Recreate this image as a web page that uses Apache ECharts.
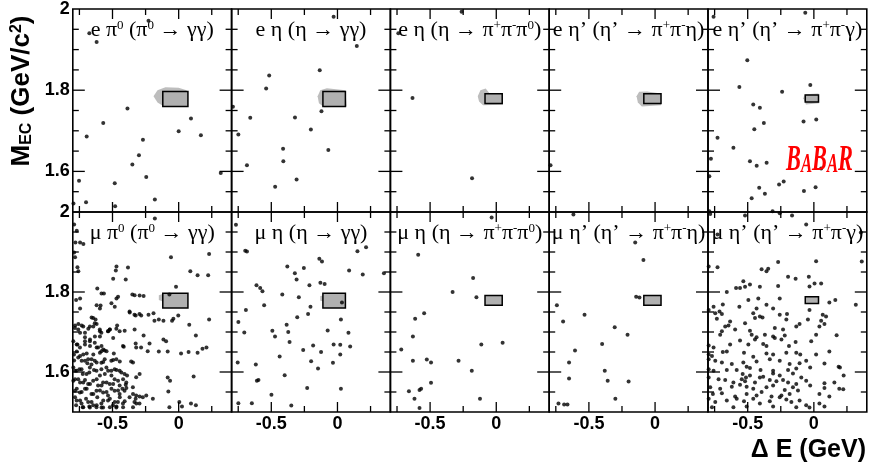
<!DOCTYPE html>
<html>
<head>
<meta charset="utf-8">
<script src="https://cdn.jsdelivr.net/npm/echarts@6/dist/echarts.min.js"></script>
<style>
  html, body { margin: 0; padding: 0; background: #fff; }
  #main { width: 872px; height: 468px; }
</style>
</head>
<body>
<div id="main"></div>
<script>
// tick positions and labels
const xMajor = [-0.5, 0];
const xMinor = [-0.75, -0.25, 0.25];
const yMajor = [1.6, 1.8];
const yMinor = [1.55, 1.65, 1.7, 1.75, 1.85, 1.9, 1.95];
const yLabels = [1.6, 1.8, 2];

// panel titles (rich text, {s|..} = superscript)
const topTitles = [
  'e π{s|0} (π{s|0} → γγ)',
  'e η (η → γγ)',
  'e η (η → π{s|+}π{s|-}π{s|0})',
  'e η’ (η’ → π{s|+}π{s|-}η)',
  'e η’ (η’ → π{s|+}π{s|-}γ)'
];
const bottomTitles = topTitles.map(t => t.replace(/^e /, 'μ '));

// signal boxes [dE1, M1, dE2, M2]
const boxes = [
  [-0.12, 1.760, 0.07, 1.797],
  [-0.11, 1.760, 0.06, 1.797],
  [-0.085, 1.767, 0.045, 1.791],
  [-0.085, 1.767, 0.045, 1.791],
  [-0.065, 1.771, 0.035, 1.788]
];

// grey signal MC regions (outline in dE, M)
const blobTop = [
  [[-0.19, 1.785], [-0.16, 1.800], [-0.10, 1.807], [0.0, 1.806], [0.06, 1.800], [0.07, 1.770], [0.0, 1.762], [-0.12, 1.762], [-0.16, 1.770]],
  [[-0.15, 1.785], [-0.13, 1.800], [-0.08, 1.805], [0.06, 1.800], [0.07, 1.760], [-0.10, 1.758], [-0.14, 1.768]],
  [[-0.14, 1.785], [-0.12, 1.800], [-0.08, 1.804], [-0.05, 1.792], [0.05, 1.792], [0.05, 1.764], [-0.10, 1.763], [-0.13, 1.772]],
  [[-0.14, 1.785], [-0.12, 1.796], [-0.06, 1.797], [0.045, 1.792], [0.045, 1.763], [-0.10, 1.760], [-0.13, 1.770]],
  [[-0.08, 1.780], [-0.07, 1.790], [0.035, 1.792], [0.04, 1.768], [-0.06, 1.765]]
];
const blobBottom = [
  [[-0.15, 1.780], [-0.15, 1.792], [-0.11, 1.796], [-0.11, 1.775]],
  [[-0.13, 1.778], [-0.13, 1.790], [-0.10, 1.792], [-0.10, 1.776]],
  null, null, null
];

// events (dE GeV, M_EC GeV/c2)
const ePi0 = [
  [-0.62, 1.919], [-0.675, 1.94], [-0.228, 1.971], [-0.387, 1.755], [-0.57, 1.719], [-0.695, 1.686],
  [0.093, 1.730], [0.0, 1.699], [0.168, 1.689], [-0.27, 1.678], [-0.30, 1.640], [-0.35, 1.617],
  [-0.245, 1.586], [-0.483, 1.571], [-0.753, 1.577], [-0.70, 1.524], [-0.48, 1.514], [-0.18, 1.531],
  [0.318, 1.596], [-0.795, 1.521]
];
const eEtaGG = [
  [-0.029, 1.981], [0.146, 1.909], [-0.516, 1.836], [-0.134, 1.849], [-0.539, 1.804], [-0.79, 1.759],
  [-0.659, 1.732], [-0.321, 1.733], [-0.121, 1.748], [-0.749, 1.691], [-0.201, 1.703], [-0.411, 1.656],
  [-0.069, 1.653], [-0.409, 1.625], [-0.684, 1.615], [-0.309, 1.580], [-0.471, 1.562]
];
const eEta3Pi = [
  [-0.262, 1.993], [-0.74, 1.94], [-0.633, 1.781], [-0.183, 1.583]
];
const eEtaPrEta = [
  [-0.79, 1.615]
];
const eEtaPrG = [
  [-0.758, 1.981], [-0.065, 1.991], [-0.503, 1.874], [-0.563, 1.808], [-0.24, 1.796], [-0.027, 1.813],
  [-0.458, 1.765], [-0.408, 1.757], [-0.378, 1.719], [-0.45, 1.704], [-0.078, 1.723], [0.018, 1.728],
  [-0.728, 1.683], [-0.608, 1.658], [-0.778, 1.631], [-0.483, 1.625], [-0.432, 1.614], [-0.357, 1.621],
  [0.055, 1.607], [-0.79, 1.588], [-0.263, 1.568], [-0.228, 1.575], [-0.413, 1.560], [0.013, 1.561],
  [-0.37, 1.545], [-0.47, 1.534], [-0.075, 1.552], [-0.79, 1.502], [-0.312, 1.502]
];
const muPi0 = [
  [-0.18, 1.984], [-0.79, 1.969], [-0.77, 1.953], [-0.78, 1.924], [-0.745, 1.924], [-0.72, 1.92], [-0.79, 1.899],
  [-0.783, 1.887], [-0.765, 1.862], [-0.758, 1.852], [0.23, 1.895], [-0.058, 1.887], [-0.47, 1.864],
  [-0.475, 1.854], [-0.383, 1.861], [-0.4, 1.831], [-0.495, 1.833], [0.088, 1.852], [0.143, 1.842],
  [0.223, 1.842], [-0.615, 1.809], [-0.583, 1.796], [-0.565, 1.796], [-0.458, 1.788], [-0.47, 1.784],
  [-0.35, 1.794], [-0.333, 1.792], [-0.295, 1.791], [-0.265, 1.79], [-0.02, 1.813], [-0.07, 1.794],
  [-0.745, 1.784], [-0.775, 1.78], [-0.62, 1.767], [-0.59, 1.766], [-0.595, 1.759], [-0.508, 1.772],
  [-0.483, 1.763], [-0.745, 1.759], [-0.37, 1.749], [-0.325, 1.741], [-0.283, 1.741], [-0.228, 1.743],
  [-0.19, 1.747], [-0.183, 1.728], [-0.15, 1.731], [-0.115, 1.728], [-0.04, 1.733], [-0.003, 1.741],
  [-0.05, 1.728], [0.23, 1.731], [-0.658, 1.736], [-0.628, 1.731], [0.08, 1.718], [-0.783, 1.716],
  [-0.758, 1.72], [-0.733, 1.716], [-0.683, 1.708], [-0.645, 1.714], [-0.62, 1.72], [-0.595, 1.702],
  [-0.533, 1.702], [-0.52, 1.706], [-0.465, 1.716], [-0.408, 1.703], [-0.333, 1.706], [-0.745, 1.698],
  [-0.708, 1.687], [-0.67, 1.681], [-0.633, 1.689], [-0.595, 1.689], [-0.495, 1.685], [-0.265, 1.691],
  [0.13, 1.691], [-0.765, 1.669], [-0.708, 1.669], [-0.67, 1.665], [-0.62, 1.661], [-0.583, 1.665],
  [-0.57, 1.656], [-0.415, 1.663], [-0.325, 1.671], [-0.22, 1.671], [-0.115, 1.681], [-0.095, 1.677],
  [0.18, 1.658], [0.21, 1.661], [-0.77, 1.651], [-0.745, 1.64], [-0.695, 1.646], [-0.645, 1.644],
  [-0.595, 1.648], [-0.545, 1.652], [-0.49, 1.646], [-0.15, 1.651], [-0.083, 1.651], [0.018, 1.646],
  [0.075, 1.65], [0.143, 1.648], [-0.79, 1.629], [-0.733, 1.628], [-0.69, 1.622], [-0.658, 1.632],
  [-0.62, 1.624], [-0.57, 1.625], [-0.495, 1.63], [-0.445, 1.626], [-0.345, 1.624], [-0.783, 1.603],
  [-0.75, 1.607], [-0.725, 1.595], [-0.675, 1.599], [-0.64, 1.605], [-0.595, 1.591], [-0.558, 1.595],
  [-0.533, 1.603], [-0.508, 1.591], [-0.47, 1.605], [-0.433, 1.599], [-0.39, 1.591], [-0.295, 1.595],
  [-0.083, 1.586], [-0.065, 1.578], [0.113, 1.589], [-0.783, 1.582], [-0.745, 1.574], [-0.708, 1.58],
  [-0.67, 1.57], [-0.62, 1.582], [-0.583, 1.566], [-0.545, 1.574], [-0.495, 1.57], [-0.458, 1.578],
  [-0.42, 1.582], [-0.4, 1.568], [-0.77, 1.558], [-0.733, 1.55], [-0.695, 1.558], [-0.645, 1.545],
  [-0.595, 1.554], [-0.545, 1.55], [-0.508, 1.558], [-0.458, 1.554], [-0.425, 1.558], [-0.395, 1.56],
  [-0.345, 1.545], [-0.295, 1.539], [-0.245, 1.541], [-0.078, 1.551], [-0.783, 1.537], [-0.745, 1.529],
  [-0.7, 1.533], [-0.658, 1.525], [-0.615, 1.537], [-0.57, 1.529], [-0.52, 1.533], [-0.483, 1.525],
  [-0.445, 1.537], [-0.408, 1.527], [-0.325, 1.533], [-0.32, 1.521], [-0.195, 1.533], [0.005, 1.525],
  [0.093, 1.521], [0.13, 1.517], [-0.775, 1.517], [-0.725, 1.512], [-0.675, 1.514], [-0.62, 1.517],
  [-0.583, 1.511], [-0.52, 1.512], [-0.47, 1.514], [-0.42, 1.512], [-0.345, 1.512], [0.025, 1.514],
  [-0.07, 1.512],
  // lower-left cluster
  [-0.784, 1.710], [-0.759, 1.706], [-0.721, 1.714], [-0.708, 1.698], [-0.646, 1.735], [-0.634, 1.722],
  [-0.671, 1.714], [-0.596, 1.706], [-0.584, 1.698], [-0.534, 1.702], [-0.521, 1.706], [-0.471, 1.708],
  [-0.446, 1.702], [-0.371, 1.751], [-0.334, 1.743], [-0.296, 1.745], [-0.796, 1.677], [-0.771, 1.669],
  [-0.746, 1.661], [-0.708, 1.677], [-0.671, 1.677], [-0.634, 1.673], [-0.609, 1.661], [-0.584, 1.652],
  [-0.559, 1.654], [-0.791, 1.644], [-0.759, 1.636], [-0.721, 1.644], [-0.708, 1.628], [-0.684, 1.632],
  [-0.659, 1.619], [-0.634, 1.628], [-0.584, 1.623], [-0.559, 1.632], [-0.509, 1.628], [-0.471, 1.632],
  [-0.421, 1.665], [-0.359, 1.626], [-0.321, 1.661], [-0.284, 1.661], [-0.234, 1.652], [-0.796, 1.611],
  [-0.771, 1.603], [-0.734, 1.607], [-0.696, 1.595], [-0.671, 1.611], [-0.621, 1.603], [-0.584, 1.607],
  [-0.546, 1.611], [-0.509, 1.603], [-0.484, 1.607], [-0.446, 1.603], [-0.409, 1.595], [-0.321, 1.587],
  [-0.796, 1.578], [-0.759, 1.582], [-0.721, 1.574], [-0.684, 1.570], [-0.646, 1.578], [-0.609, 1.566],
  [-0.571, 1.574], [-0.521, 1.570], [-0.484, 1.582], [-0.446, 1.566], [-0.396, 1.574], [-0.346, 1.562],
  [-0.784, 1.553], [-0.746, 1.549], [-0.708, 1.558], [-0.659, 1.545], [-0.621, 1.553], [-0.571, 1.549],
  [-0.534, 1.541], [-0.484, 1.553], [-0.446, 1.545], [-0.409, 1.553], [-0.371, 1.537], [-0.321, 1.541],
  [-0.271, 1.537], [-0.771, 1.529], [-0.734, 1.521], [-0.684, 1.525], [-0.646, 1.517], [-0.584, 1.521],
  [-0.534, 1.529], [-0.496, 1.517], [-0.459, 1.525], [-0.421, 1.521], [-0.334, 1.525], [-0.296, 1.521],
  [-0.721, 1.512], [-0.671, 1.511], [-0.621, 1.512], [-0.571, 1.511], [-0.471, 1.511]
];
const muEtaGG = [
  [-0.767, 1.968], [-0.697, 1.903], [-0.684, 1.901], [-0.137, 1.883], [-0.117, 1.876], [0.151, 1.902],
  [0.216, 1.912], [0.088, 1.854], [0.191, 1.844], [0.351, 1.847], [-0.379, 1.864], [-0.322, 1.847],
  [-0.254, 1.860], [-0.309, 1.831], [-0.612, 1.817], [-0.584, 1.810], [-0.567, 1.802], [-0.212, 1.817],
  [-0.129, 1.823], [-0.097, 1.820], [-0.417, 1.794], [-0.292, 1.787], [-0.554, 1.767], [-0.692, 1.755],
  [0.034, 1.774], [-0.204, 1.763], [-0.304, 1.737], [-0.222, 1.745], [-0.749, 1.725], [0.026, 1.731],
  [-0.704, 1.699], [-0.384, 1.718], [-0.372, 1.700], [-0.492, 1.703], [-0.472, 1.689], [-0.074, 1.704],
  [0.083, 1.698], [-0.362, 1.675], [-0.184, 1.666], [-0.124, 1.650], [-0.029, 1.669], [0.021, 1.668],
  [0.096, 1.664], [0.021, 1.644], [-0.259, 1.655], [-0.437, 1.639], [-0.199, 1.627], [-0.034, 1.623],
  [-0.754, 1.624], [-0.617, 1.619], [-0.147, 1.609], [-0.399, 1.592], [-0.609, 1.578], [-0.597, 1.580],
  [-0.229, 1.560], [0.026, 1.558], [-0.499, 1.543], [-0.647, 1.522], [-0.749, 1.522], [-0.349, 1.516]
];
const muEta3Pi = [
  [-0.035, 1.986], [-0.59, 1.893], [-0.175, 1.835], [-0.33, 1.800], [-0.15, 1.787], [-0.545, 1.747],
  [-0.613, 1.733], [-0.63, 1.689], [-0.718, 1.656], [-0.63, 1.628], [-0.525, 1.631], [-0.493, 1.624],
  [-0.285, 1.628], [-0.113, 1.669], [0.048, 1.673], [-0.185, 1.603], [-0.493, 1.573], [-0.66, 1.552],
  [-0.58, 1.555], [-0.568, 1.558], [-0.618, 1.533], [-0.123, 1.533], [-0.58, 1.510]
];
const muEtaPrEta = [
  [-0.617, 1.994], [-0.15, 1.924], [-0.088, 1.880], [-0.143, 1.788], [-0.118, 1.786], [-0.742, 1.767],
  [-0.533, 1.743], [-0.695, 1.726], [-0.305, 1.712], [-0.208, 1.693], [-0.4, 1.670], [-0.605, 1.654],
  [-0.65, 1.624], [-0.65, 1.584], [-0.38, 1.603], [-0.358, 1.578], [-0.2, 1.576], [-0.3, 1.533],
  [-0.73, 1.521], [-0.687, 1.519], [-0.662, 1.519]
];
const muEtaPrG = [
  [-0.783, 1.995], [-0.52, 1.991], [-0.258, 1.997], [-0.165, 1.991], [-0.728, 1.944], [-0.058, 1.969], [0.355, 1.949],
  [-0.795, 1.864], [-0.728, 1.862], [-0.27, 1.875], [0.017, 1.877], [0.362, 1.876],
  [-0.395, 1.857], [-0.358, 1.852], [-0.345, 1.858], [-0.195, 1.838], [-0.138, 1.833], [-0.038, 1.838], [-0.533, 1.827],
  [-0.588, 1.81], [-0.558, 1.81], [-0.52, 1.813], [-0.483, 1.819], [-0.408, 1.813], [-0.27, 1.815], [-0.033, 1.814],
  [0.005, 1.821], [0.055, 1.821], [-0.658, 1.8],
  [-0.495, 1.78], [-0.42, 1.784], [-0.258, 1.784], [0.162, 1.78], [0.317, 1.768], [-0.758, 1.763], [-0.688, 1.769],
  [-0.563, 1.763], [-0.433, 1.759], [-0.358, 1.768], [0.117, 1.774],
  [-0.795, 1.755], [-0.745, 1.747], [-0.713, 1.751], [-0.695, 1.745], [-0.458, 1.747], [-0.408, 1.739], [-0.308, 1.759],
  [-0.258, 1.743], [-0.203, 1.745], [-0.033, 1.755], [0.067, 1.743], [0.092, 1.739],
  [-0.733, 1.733], [-0.633, 1.726], [-0.445, 1.735], [-0.388, 1.736], [-0.208, 1.731], [-0.108, 1.72], [-0.045, 1.731],
  [0.055, 1.728], [-0.67, 1.714], [-0.645, 1.716], [-0.695, 1.702], [-0.595, 1.706], [-0.52, 1.722], [-0.483, 1.703],
  [-0.295, 1.71], [-0.233, 1.706], [-0.133, 1.714], [0.042, 1.714], [0.08, 1.72],
  [-0.708, 1.693], [-0.47, 1.693], [-0.433, 1.687], [-0.37, 1.693], [-0.308, 1.689], [-0.22, 1.691], [0.017, 1.693],
  [0.172, 1.692], [-0.445, 1.681], [-0.558, 1.679], [-0.495, 1.669], [-0.383, 1.67], [-0.295, 1.685], [-0.245, 1.681],
  [-0.138, 1.675], [-0.02, 1.677],
  [-0.795, 1.666], [-0.758, 1.661], [-0.633, 1.669], [-0.358, 1.665], [-0.188, 1.665], [-0.688, 1.65], [-0.658, 1.651],
  [-0.528, 1.648], [-0.358, 1.646], [-0.308, 1.644], [-0.208, 1.648], [-0.133, 1.648], [-0.103, 1.644], [0.017, 1.644],
  [0.117, 1.651], [-0.795, 1.644], [-0.77, 1.64], [-0.458, 1.638],
  [-0.795, 1.632], [-0.745, 1.628], [-0.695, 1.624], [-0.62, 1.62], [-0.533, 1.624], [-0.508, 1.613], [-0.433, 1.626],
  [-0.333, 1.632], [-0.258, 1.628], [-0.183, 1.62], [-0.108, 1.622], [-0.058, 1.628], [0.08, 1.621], [0.187, 1.613],
  [0.197, 1.611], [-0.795, 1.607], [-0.758, 1.603], [-0.658, 1.605], [-0.583, 1.605], [-0.483, 1.61], [-0.403, 1.605],
  [-0.308, 1.603], [-0.195, 1.605], [-0.133, 1.609], [-0.028, 1.611],
  [-0.538, 1.595], [-0.513, 1.586], [-0.483, 1.591], [-0.408, 1.586], [-0.308, 1.596], [-0.258, 1.591], [-0.233, 1.58],
  [-0.158, 1.596], [-0.095, 1.586], [0.225, 1.591], [-0.795, 1.586], [-0.72, 1.582], [-0.67, 1.58], [-0.608, 1.574],
  [-0.545, 1.582], [-0.52, 1.577], [-0.445, 1.574], [-0.383, 1.588], [-0.333, 1.58], [-0.283, 1.577], [-0.195, 1.574],
  [-0.133, 1.57], [-0.058, 1.578], [0.08, 1.572], [0.155, 1.574],
  [-0.783, 1.562], [-0.708, 1.558], [-0.62, 1.563], [-0.558, 1.568], [-0.508, 1.563], [-0.458, 1.558], [-0.358, 1.562],
  [-0.308, 1.566], [-0.22, 1.555], [-0.158, 1.562], [-0.028, 1.566], [0.08, 1.56], [0.192, 1.558], [0.222, 1.557],
  [-0.763, 1.545], [-0.695, 1.547], [-0.595, 1.539], [-0.508, 1.545], [-0.433, 1.541], [-0.395, 1.55], [-0.32, 1.539],
  [-0.245, 1.541], [-0.183, 1.545], [-0.12, 1.554], [0.042, 1.545], [0.117, 1.539],
  [-0.795, 1.533], [-0.745, 1.525], [-0.658, 1.529], [-0.583, 1.533], [-0.528, 1.527], [-0.458, 1.533], [-0.408, 1.521],
  [-0.333, 1.527], [-0.258, 1.537], [-0.208, 1.531], [-0.17, 1.525], [-0.108, 1.529], [-0.058, 1.517], [0.042, 1.521],
  [0.08, 1.514], [-0.77, 1.512], [-0.608, 1.512], [-0.508, 1.514], [-0.308, 1.514], [-0.133, 1.512], [-0.033, 1.511]
];

const panelData = [
  [ePi0, eEtaGG, eEta3Pi, eEtaPrEta, eEtaPrG],
  [muPi0, muEtaGG, muEta3Pi, muEtaPrEta, muEtaPrG]
];

// layout
const colLeft = [72.8, 231.6, 390.4, 549.2, 708];
const colWidth = 158.8;
const rowTop = [9, 212];
const rowHeight = [203, 200];

const black = '#000';
const labelFont = { color: black, fontFamily: 'Liberation Sans, Arial, sans-serif', fontWeight: 'bold', fontSize: 18 };

// tick list for the custom tick series: [0 = x / 1 = y, value, major]
const tickData = [].concat(
  xMajor.map(v => [0, v, 1]), xMinor.map(v => [0, v, 0]),
  yMajor.map(v => [1, v, 1]), yMinor.map(v => [1, v, 0])
);

function renderTick(params, api) {
  const kind = api.value(0), v = api.value(1), major = api.value(2);
  const st = { stroke: black, lineWidth: 1.3 };
  if (kind === 0) {
    const len = major ? 10 : 6;
    const b = api.coord([v, 1.5]), t = api.coord([v, 2.0]);
    return { type: 'group', children: [
      { type: 'line', shape: { x1: b[0], y1: b[1], x2: b[0], y2: b[1] - len }, style: st },
      { type: 'line', shape: { x1: t[0], y1: t[1], x2: t[0], y2: t[1] + len }, style: st }
    ] };
  }
  const len = major ? 12 : 6;
  const l = api.coord([-0.8, v]), r = api.coord([0.4, v]);
  return { type: 'group', children: [
    { type: 'line', shape: { x1: l[0], y1: l[1], x2: l[0] + len, y2: l[1] }, style: st },
    { type: 'line', shape: { x1: r[0], y1: r[1], x2: r[0] - len, y2: r[1] }, style: st }
  ] };
}

const grids = [], xAxes = [], yAxes = [], series = [], graphics = [];

for (let r = 0; r < 2; r++) {
  for (let c = 0; c < 5; c++) {
    const g = r * 5 + c;
    grids.push({ left: colLeft[c], top: rowTop[r], width: colWidth, height: rowHeight[r],
      show: true, borderColor: black, borderWidth: 1.6, backgroundColor: 'transparent' });

    xAxes.push({
      gridIndex: g, type: 'value', min: -0.8, max: 0.4, position: 'bottom',
      axisLine: { show: false, onZero: false }, axisTick: { show: false }, splitLine: { show: false },
      axisLabel: r === 1
        ? Object.assign({ show: true, customValues: xMajor, margin: 3, formatter: v => (v === 0 ? '0' : v.toFixed(1)) }, labelFont)
        : { show: false }
    });
    yAxes.push({
      gridIndex: g, type: 'value', min: 1.5, max: 2.0, position: 'left',
      axisLine: { show: false, onZero: false }, axisTick: { show: false }, splitLine: { show: false },
      axisLabel: c === 0
        ? Object.assign({ show: true, customValues: yLabels, margin: 3, formatter: v => (v === 2 ? '2' : v.toFixed(1)) }, labelFont)
        : { show: false }
    });

    const ax = { xAxisIndex: g, yAxisIndex: g };
    const blob = (r === 0 ? blobTop : blobBottom)[c];
    if (blob) {
      series.push(Object.assign({
        type: 'custom', silent: true, z: 1, data: [0],
        renderItem: (params, api) => ({
          type: 'polygon',
          shape: { points: blob.map(p => api.coord(p)) },
          style: { fill: '#bdbdbd' }
        })
      }, ax));
    }
    series.push(Object.assign({
      type: 'custom', silent: true, z: 2, data: [boxes[c]],
      encode: { x: [0, 2], y: [1, 3] },
      renderItem: (params, api) => {
        const p1 = api.coord([api.value(0), api.value(3)]);
        const p2 = api.coord([api.value(2), api.value(1)]);
        return {
          type: 'rect',
          shape: { x: p1[0], y: p1[1], width: p2[0] - p1[0], height: p2[1] - p1[1] },
          style: { fill: '#b0b0b0', stroke: black, lineWidth: 1.5 }
        };
      }
    }, ax));
    series.push(Object.assign({
      type: 'scatter', z: 3, symbolSize: 4, silent: true,
      itemStyle: { color: black }, data: panelData[r][c]
    }, ax));
    series.push(Object.assign({
      type: 'custom', silent: true, z: 4, data: tickData, renderItem: renderTick
    }, ax));

    graphics.push({
      type: 'text', x: colLeft[c] + colWidth / 2, y: rowTop[r] + 21, z: 10,
      style: {
        text: (r === 0 ? topTitles : bottomTitles)[c],
        fontFamily: 'Liberation Serif, Times New Roman, serif', fontSize: 22,
        fill: black, align: 'center', verticalAlign: 'middle',
        rich: { s: { fontFamily: 'Liberation Serif, serif', fontSize: 13, verticalAlign: 'top', fill: black } }
      }
    });
  }
}

// axis titles
graphics.push({
  type: 'text', x: 22, y: 91, rotation: Math.PI / 2, z: 10,
  style: {
    text: 'M{sub|EC} (GeV/c{sup|2})',
    fontFamily: 'Liberation Sans, Arial, sans-serif', fontWeight: 'bold', fontSize: 26,
    fill: black, align: 'center', verticalAlign: 'middle',
    rich: {
      sub: { fontFamily: 'Liberation Sans, Arial, sans-serif', fontWeight: 'bold', fontSize: 16, verticalAlign: 'bottom', fill: black },
      sup: { fontFamily: 'Liberation Sans, Arial, sans-serif', fontWeight: 'bold', fontSize: 16, verticalAlign: 'top', fill: black }
    }
  }
});
graphics.push({
  type: 'text', x: 866, y: 450, z: 10,
  style: {
    text: 'Δ E (GeV)',
    fontFamily: 'Liberation Sans, Arial, sans-serif', fontWeight: 'bold', fontSize: 25,
    fill: black, align: 'right', verticalAlign: 'middle'
  }
});

// BaBar logo
const babarBig = { fontFamily: 'Liberation Serif, serif', fontStyle: 'italic', fontWeight: 'bold', fontSize: 36, fill: '#ff0000', verticalAlign: 'bottom' };
const babarSmall = Object.assign({}, babarBig, { fontSize: 27 });
graphics.push({
  type: 'text', x: 786, y: 161, scaleX: 0.62, z: 10,
  style: {
    text: '{b|B}{a|A}{b|B}{a|A}{b|R}',
    align: 'left', verticalAlign: 'middle', fill: '#ff0000',
    rich: { b: babarBig, a: babarSmall }
  }
});

const chart = echarts.init(document.getElementById('main'), null, { renderer: 'canvas' });
chart.setOption({
  backgroundColor: '#fff',
  animation: false,
  grid: grids,
  xAxis: xAxes,
  yAxis: yAxes,
  series: series,
  graphic: graphics
});
</script>
</body>
</html>
